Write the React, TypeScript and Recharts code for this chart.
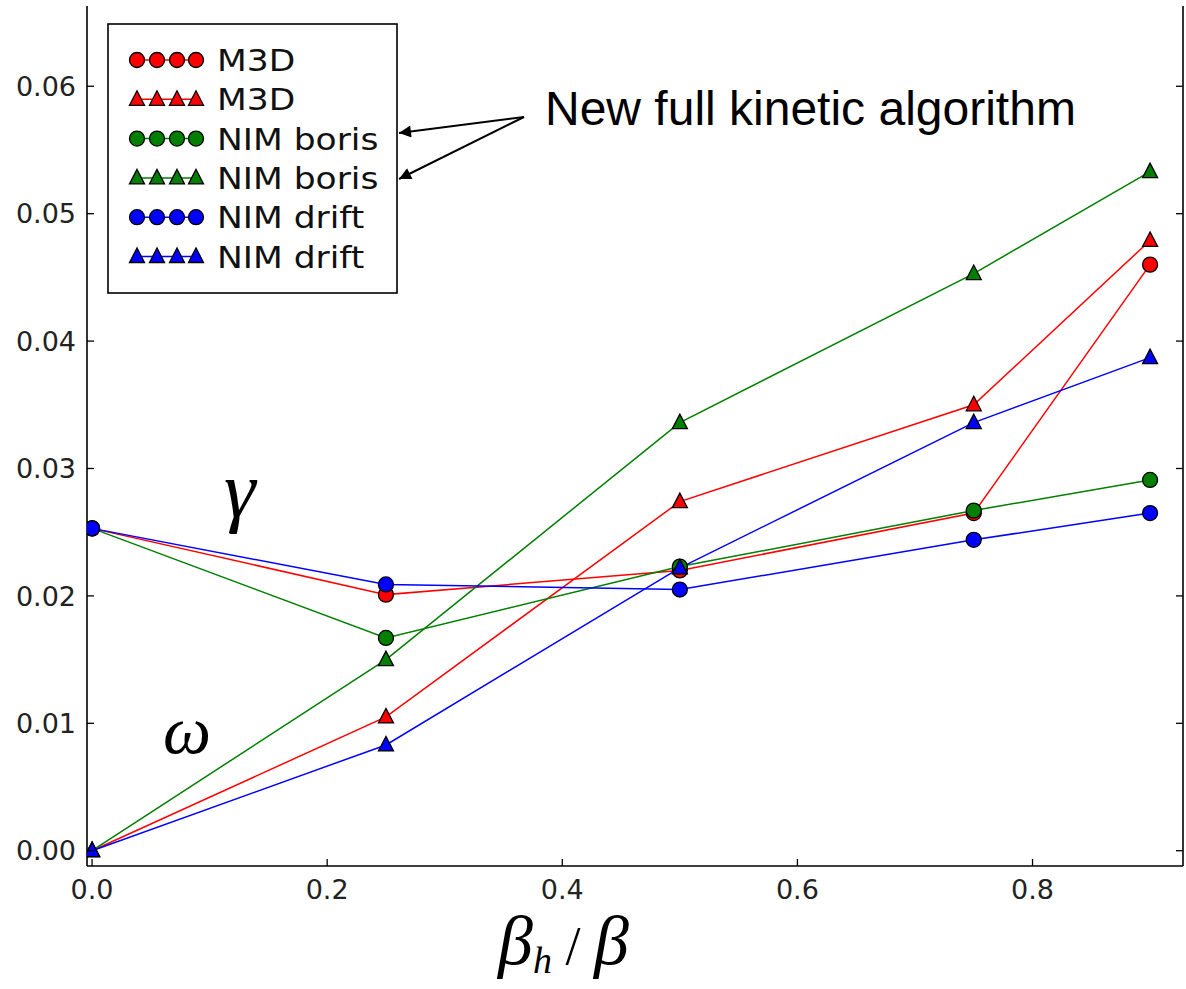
import React from 'react';
import { LineChart, Line, XAxis, YAxis, Legend } from 'recharts';

// beta_h / beta values where each run was made
const xValues = [0, 0.25, 0.5, 0.75, 0.9];

// growth rate (circles) and frequency (triangles) per code
const m3dGamma = [0.0253, 0.0201, 0.022, 0.0265, 0.046];
const m3dOmega = [0, 0.0105, 0.0274, 0.035, 0.0479];
const borisGamma = [0.0253, 0.0167, 0.0223, 0.0267, 0.0291];
const borisOmega = [0, 0.015, 0.0336, 0.0453, 0.0533];
const driftGamma = [0.0253, 0.0209, 0.0205, 0.0244, 0.0265];
const driftOmega = [0, 0.0083, 0.0222, 0.0336, 0.0387];

const xTicks = [0, 0.2, 0.4, 0.6, 0.8];
const yTicks = [0, 0.01, 0.02, 0.03, 0.04, 0.05, 0.06];

const series = [
  { key: 'm3dGamma', name: 'M3D', color: '#ff0000', shape: 'circle' },
  { key: 'm3dOmega', name: 'M3D', color: '#ff0000', shape: 'triangle' },
  { key: 'borisGamma', name: 'NIM boris', color: '#007f00', shape: 'circle' },
  { key: 'borisOmega', name: 'NIM boris', color: '#007f00', shape: 'triangle' },
  { key: 'driftGamma', name: 'NIM drift', color: '#0000ff', shape: 'circle' },
  { key: 'driftOmega', name: 'NIM drift', color: '#0000ff', shape: 'triangle' },
];

const data = xValues.map((x, i) => ({
  x,
  m3dGamma: m3dGamma[i],
  m3dOmega: m3dOmega[i],
  borisGamma: borisGamma[i],
  borisOmega: borisOmega[i],
  driftGamma: driftGamma[i],
  driftOmega: driftOmega[i],
}));

const FONT = '"DejaVu Sans", sans-serif';
const SERIF = '"Liberation Serif", "Times New Roman", serif';

const Marker = ({ cx, cy, color, shape }: any) => {
  if (cx == null || cy == null) return null;
  if (shape === 'circle') {
    return <circle cx={cx} cy={cy} r={7.5} fill={color} stroke="#000" strokeWidth={1.3} />;
  }
  return (
    <polygon
      points={`${cx},${cy - 8.5} ${cx - 7.5},${cy + 6} ${cx + 7.5},${cy + 6}`}
      fill={color}
      stroke="#000"
      strokeWidth={1.3}
    />
  );
};

// ticks point inward, matplotlib style
const BottomTick = ({ x, y, payload }: any) => (
  <g>
    <line x1={x} x2={x} y1={y - 10} y2={y - 17} stroke="#000" strokeWidth={1.3} />
    <text x={x} y={y + 23} textAnchor="middle" fontSize={27} fontFamily={FONT} fill="#222">
      {payload.value.toFixed(1)}
    </text>
  </g>
);

const LeftTick = ({ x, y, payload }: any) => (
  <g>
    <line x1={x + 10} x2={x + 17} y1={y} y2={y} stroke="#000" strokeWidth={1.3} />
    <text x={x - 1} y={y} dy="0.36em" textAnchor="end" fontSize={27} fontFamily={FONT} fill="#222">
      {payload.value.toFixed(2)}
    </text>
  </g>
);

const TopTick = ({ x, y }: any) => (
  <line x1={x} x2={x} y1={y} y2={y + 7} stroke="#000" strokeWidth={1.3} />
);

const RightTick = ({ x, y }: any) => (
  <line x1={x} x2={x - 7} y1={y} y2={y} stroke="#000" strokeWidth={1.3} />
);

const LegendBox = () => (
  <svg width={292} height={272} style={{ display: 'block' }}>
    <rect x={1} y={1} width={289} height={269} fill="#fff" stroke="#000" strokeWidth={1.6} />
    {series.map((s, i) => {
      const cy = 37 + i * 39.3;
      return (
        <g key={s.key}>
          <line x1={26} x2={94} y1={cy} y2={cy} stroke={s.color} strokeWidth={1.5} />
          {[30, 50, 70, 89].map((mx) => (
            <Marker key={mx} cx={mx} cy={cy} color={s.color} shape={s.shape} />
          ))}
          <text
            transform={`translate(110, ${cy + 11}) scale(1.15, 1)`}
            fontSize={30}
            fontFamily={FONT}
            fill="#111"
          >
            {s.name}
          </text>
        </g>
      );
    })}
  </svg>
);

const Overlay = () => (
  <svg
    width={1186}
    height={989}
    style={{ position: 'absolute', left: 0, top: 0, pointerEvents: 'none' }}
  >
    <defs>
      <marker id="arrow" viewBox="0 0 10 10" refX={10} refY={5} markerWidth={18} markerHeight={12} markerUnits="userSpaceOnUse" orient="auto">
        <path d="M0,0 L10,5 L0,10 z" fill="#000" />
      </marker>
    </defs>
    <line x1={524} y1={117} x2={399} y2={133} stroke="#000" strokeWidth={2} markerEnd="url(#arrow)" />
    <line x1={524} y1={117} x2={399} y2={179} stroke="#000" strokeWidth={2} markerEnd="url(#arrow)" />
    <text x={545} y={125} fontSize={48} fontFamily='"Liberation Sans", Arial, sans-serif' fill="#000">
      New full kinetic algorithm
    </text>
    <text x={224} y={517} fontSize={80} fontStyle="italic" fontFamily={SERIF} fill="#000">γ</text>
    <text x={163} y={753} fontSize={68} fontStyle="italic" fontFamily={SERIF} fill="#000">ω</text>
    <text x={498} y={964} fontSize={70} fontStyle="italic" fontFamily={SERIF} fill="#000">
      β
      <tspan fontSize={38} dy={9}>h</tspan>
      <tspan dy={-9} fontStyle="normal" fontSize={54}> / </tspan>
      <tspan>β</tspan>
    </text>
  </svg>
);

const App = () => (
  <div style={{ position: 'absolute', left: 0, top: 0, width: 1186, height: 989, background: '#fff' }}>
    <LineChart
      width={1186}
      height={989}
      data={data}
      margin={{ top: 6, right: 0, bottom: 0, left: 0 }}
    >
      <XAxis
        xAxisId="bottom"
        dataKey="x"
        type="number"
        domain={[-0.0043, 0.928]}
        allowDataOverflow
        ticks={xTicks}
        height={123}
        tickSize={0}
        tickMargin={10}
        tickLine={false}
        axisLine={{ stroke: '#000', strokeWidth: 1.6 }}
        tick={<BottomTick />}
        interval={0}
      />
      <XAxis
        xAxisId="top"
        orientation="top"
        dataKey="x"
        type="number"
        domain={[-0.0043, 0.928]}
        allowDataOverflow
        ticks={xTicks}
        height={0}
        tickSize={0}
        tickMargin={0}
        tickLine={false}
        axisLine={{ stroke: '#000', strokeWidth: 1.6 }}
        tick={<TopTick />}
        interval={0}
      />
      <YAxis
        yAxisId="left"
        type="number"
        domain={[-0.0012, 0.0663]}
        allowDataOverflow
        ticks={yTicks}
        width={87}
        tickSize={0}
        tickMargin={10}
        tickLine={false}
        axisLine={{ stroke: '#000', strokeWidth: 1.6 }}
        tick={<LeftTick />}
        interval={0}
      />
      <YAxis
        yAxisId="right"
        orientation="right"
        type="number"
        domain={[-0.0012, 0.0663]}
        allowDataOverflow
        ticks={yTicks}
        width={3}
        tickSize={0}
        tickMargin={0}
        tickLine={false}
        axisLine={{ stroke: '#000', strokeWidth: 1.6 }}
        tick={<RightTick />}
        interval={0}
      />
      {series.map((s) => (
        <Line
          key={s.key}
          xAxisId="bottom"
          yAxisId="left"
          dataKey={s.key}
          name={s.name}
          stroke={s.color}
          strokeWidth={1.5}
          isAnimationActive={false}
          dot={(p: any) => <Marker key={`${s.key}-${p.index}`} cx={p.cx} cy={p.cy} color={s.color} shape={s.shape} />}
        />
      ))}
      <Legend
        layout="horizontal"
        align="center"
        verticalAlign="middle"
        content={<LegendBox />}
        wrapperStyle={{ position: 'absolute', left: 107, top: 23, width: 292, height: 272 }}
      />
    </LineChart>
    <Overlay />
  </div>
);

export default App;
